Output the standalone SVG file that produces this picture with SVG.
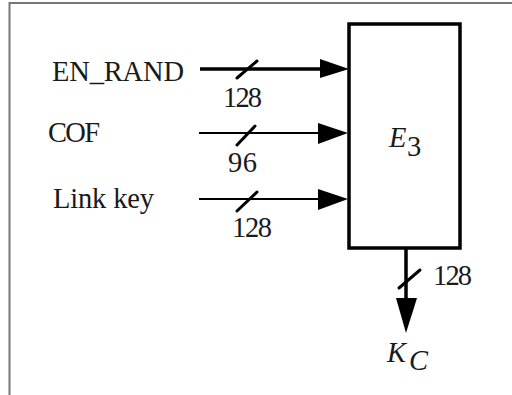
<svg xmlns="http://www.w3.org/2000/svg" width="512" height="395" viewBox="0 0 512 395">
<style>
.t{font-family:"Liberation Serif","Times New Roman",serif;font-size:28.5px;fill:#1a1a1a}
.i{font-style:italic}
.thin{stroke:#000;stroke-width:2;fill:none}
.thick{stroke:#000;stroke-width:3.5;fill:none}
.sl{stroke:#000;stroke-width:3;stroke-linecap:round}
.ah{fill:#000}
</style>
<rect width="512" height="395" fill="#fff"/>
<path d="M9.5 395 V3 H512" fill="none" stroke="#777" stroke-width="2"/>
<g id="e3">
<rect x="349" y="24" width="111" height="224" fill="#fff" stroke="#000" stroke-width="3.5"/>
<text class="t i" x="389" y="147" font-size="23">E</text>
<text class="t" x="407" y="156" font-size="17">3</text>
</g>
<g id="en_rand"><text class="t" x="52" y="81" textLength="132">EN_RAND</text></g>
<g id="cof"><text class="t" x="48" y="142" textLength="52">COF</text></g>
<g id="linkkey"><text class="t" x="53" y="208" textLength="101">Link key</text></g>
<g id="kc">
<text class="t i" x="387" y="362" font-size="27">K</text>
<text class="t i" x="409" y="370" font-size="19">C</text>
</g>
<g id="connectors">
<line class="thick" x1="200" y1="69" x2="322" y2="69"/>
<polygon class="ah" points="320,59 349,69 320,78"/>
<line class="sl" x1="237" y1="78" x2="257" y2="61"/>
<text class="t" x="223" y="107" textLength="39">128</text>
<line class="thin" x1="199" y1="133" x2="320" y2="133"/>
<polygon class="ah" points="318,123 348,133 318,144"/>
<line class="sl" x1="237" y1="145" x2="255" y2="126"/>
<text class="t" x="228" y="172" textLength="29">96</text>
<line class="thin" x1="199" y1="199" x2="320" y2="199"/>
<polygon class="ah" points="318,189 348,199 318,210"/>
<line class="sl" x1="237" y1="211" x2="257" y2="192"/>
<text class="t" x="232" y="237" textLength="40">128</text>
<line class="thick" x1="406" y1="248" x2="406" y2="300"/>
<polygon class="ah" points="396,298 417,298 406,333"/>
<line class="sl" x1="399" y1="288" x2="420" y2="270"/>
<text class="t" x="433" y="285" textLength="39">128</text>
</g>
</svg>
